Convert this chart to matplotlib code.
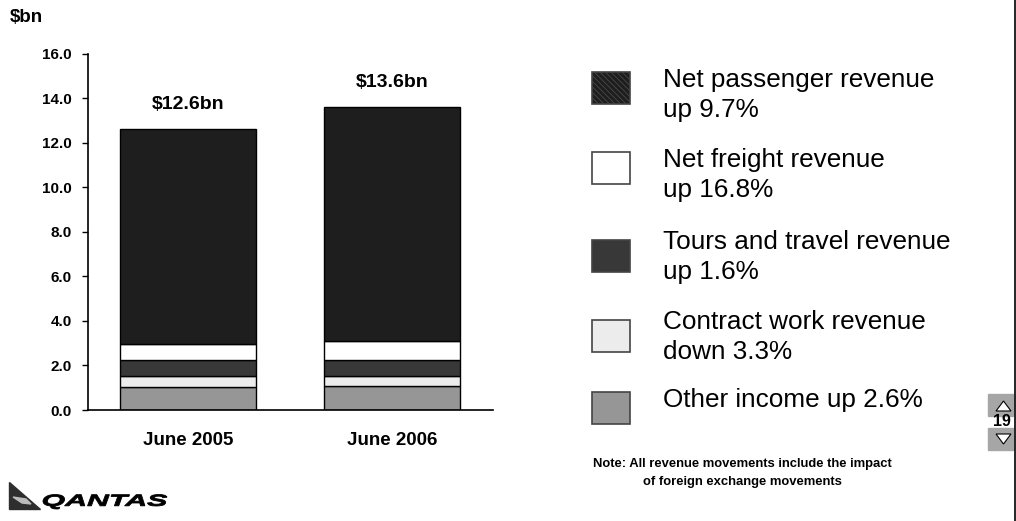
import matplotlib
matplotlib.use('Agg')
import matplotlib.pyplot as plt
from matplotlib.patches import Rectangle, Polygon, PathPatch
from matplotlib.textpath import TextPath
from matplotlib.font_manager import FontProperties
from matplotlib.transforms import Affine2D
import numpy as np

plt.rcParams['font.family'] = ['Liberation Sans', 'DejaVu Sans']
plt.rcParams['hatch.linewidth'] = 0.6

# values in $bn
periods = ['June 2005', 'June 2006']
total_labels = ['$12.6bn', '$13.6bn']
other_income = [1.03, 1.08]
contract_work = [0.48, 0.46]
tours_travel = [0.72, 0.69]
net_freight = [0.73, 0.88]
net_passenger = [9.64, 10.49]

series = [
    ('Other income up 2.6%', other_income, '#969696'),
    ('Contract work revenue\ndown 3.3%', contract_work, '#ececec'),
    ('Tours and travel revenue\nup 1.6%', tours_travel, '#383838'),
    ('Net freight revenue\nup 16.8%', net_freight, '#ffffff'),
    ('Net passenger revenue\nup 9.7%', net_passenger, '#1e1e1e'),
]
yticks = np.arange(0, 16.1, 2.0)

fig = plt.figure(figsize=(10.16, 5.21), dpi=100)
W, H = 1016, 521
ax = fig.add_axes([88 / W, 1 - 410 / H, (493 - 88) / W, (410 - 53.5) / H])

x = np.arange(len(periods))
bottom = np.zeros(len(periods))
for name, vals, col in series:
    ax.bar(x, vals, width=0.667, bottom=bottom, color=col,
           edgecolor='black', linewidth=1.0, zorder=2)
    bottom += np.array(vals)

for i, lab in enumerate(total_labels):
    ax.annotate(lab, xy=(x[i], bottom[i]), xytext=(0, 17.5),
                textcoords='offset points', ha='center', va='center',
                fontsize=14, fontweight='bold')

ax.set_xlim(-0.49, 1.495)
ax.set_ylim(0, 16)
ax.set_yticks(yticks)
ax.set_yticklabels(['%.1f' % v for v in yticks], fontsize=11, fontweight='bold')
ax.set_xticks(x)
ax.set_xticklabels(periods, fontsize=13.5, fontweight='bold')
ax.tick_params(axis='y', length=4.5, width=1, pad=7, direction='out')
ax.tick_params(axis='x', length=0, pad=16)
for s in ['top', 'right']:
    ax.spines[s].set_visible(False)
for s in ['left', 'bottom']:
    ax.spines[s].set_linewidth(1.2)

fig.text(10 / W, 1 - 17 / H, '$bn', fontsize=13.5, fontweight='bold', va='center')

# overlay in pixel coordinates for legend and decorations
ov = fig.add_axes([0, 0, 1, 1])
ov.set_xlim(0, W)
ov.set_ylim(H, 0)
ov.axis('off')

legend_rows = [
    (series[4], 72, [87, 117]),
    (series[3], 152, [167, 197]),
    (series[2], 240, [249, 279]),
    (series[1], 320, [329, 359]),
    (series[0], 392, [407]),
]
for (name, vals, col), top, baselines in legend_rows:
    if col == '#1e1e1e':
        ov.add_patch(Rectangle((592, top), 38, 32, facecolor=col,
                               edgecolor='#4a4a4a', linewidth=0, hatch='\\\\\\\\\\\\'))
        ov.add_patch(Rectangle((592, top), 38, 32, fill=False,
                               edgecolor='#444444', linewidth=1.2))
    else:
        ov.add_patch(Rectangle((592, top), 38, 32, facecolor=col,
                               edgecolor='#444444', linewidth=1.2))
    for line, yb in zip(name.split('\n'), baselines):
        ov.text(663, yb, line, fontsize=18.8, va='baseline', ha='left')

ov.text(593, 464, 'Note: All revenue movements include the impact',
        fontsize=9.4, fontweight='bold', va='center')
ov.text(643, 482, 'of foreign exchange movements',
        fontsize=9.4, fontweight='bold', va='center')

# page navigation
ov.add_patch(Rectangle((988, 394), 25, 22, color='#a6a6a6'))
ov.add_patch(Rectangle((988, 428), 25, 22, color='#a6a6a6'))
ov.add_patch(Polygon([(996, 411), (1011, 411), (1003.5, 401)],
                     facecolor='white', edgecolor='black', linewidth=0.8))
ov.add_patch(Polygon([(996, 434), (1011, 434), (1003.5, 444)],
                     facecolor='white', edgecolor='black', linewidth=0.8))
ov.text(1002, 422, '19', fontsize=11.5, fontweight='bold', ha='center', va='center')
ov.plot([1015, 1015], [0, H], color='black', linewidth=1.2)

# logo
ov.add_patch(Polygon([(9, 482), (9, 509), (40, 509)], color='#2e2e2e'))
ov.add_patch(Polygon([(13, 497), (26, 499), (31, 504), (22, 503)], color='#bbbbbb'))
tp = TextPath((0, 0), 'QANTAS', size=14,
              prop=FontProperties(family='Liberation Sans', weight='bold', style='italic'))
bb = tp.get_extents()
sx = (167 - 43) / bb.width
sy = 14.5 / bb.height
tr = Affine2D().translate(-bb.x0, -bb.y0).scale(sx, -sy).translate(43, 509)
ov.add_patch(PathPatch(tr.transform_path(tp), color='black', lw=0.6))

fig.savefig('out.png', dpi=100)
